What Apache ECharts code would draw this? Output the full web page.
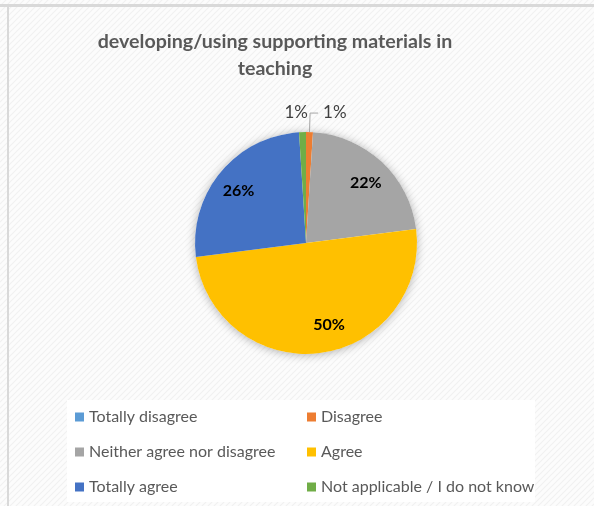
<!DOCTYPE html>
<html>
<head>
<meta charset="utf-8">
<script src="https://cdn.jsdelivr.net/npm/echarts@6/dist/echarts.min.js"></script>
<style>
html,body{margin:0;padding:0;background:#fbfbfb;}
#chart{width:594px;height:506px;}
</style>
</head>
<body>
<div id="chart"></div>
<script>
const titleText = 'developing/using supporting materials in\nteaching';
const categories = ['Totally disagree', 'Disagree', 'Neither agree nor disagree', 'Agree', 'Totally agree', 'Not applicable / I do not know'];
const values = [0, 1, 22, 50, 26, 1];
const colors = ['#5B9BD5', '#ED7D31', '#A5A5A5', '#FFC000', '#4472C4', '#70AD47'];
const legendLeftCol = ['Totally disagree', 'Neither agree nor disagree', 'Totally agree'];
const legendRightCol = ['Disagree', 'Agree', 'Not applicable / I do not know'];

const chart = echarts.init(document.getElementById('chart'), null, {renderer: 'canvas'});

// subtle diagonal hatch background
const pat = document.createElement('canvas');
pat.width = 6; pat.height = 6;
const pc = pat.getContext('2d');
pc.fillStyle = '#fcfcfc'; pc.fillRect(0, 0, 6, 6);
pc.strokeStyle = '#f1f1f1'; pc.lineWidth = 1.2;
pc.beginPath(); pc.moveTo(0, 6); pc.lineTo(6, 0); pc.moveTo(-3, 3); pc.lineTo(3, -3); pc.moveTo(3, 9); pc.lineTo(9, 3); pc.stroke();

const total = values.reduce((a, b) => a + b, 0);
const bigThreshold = 5;

const mainData = categories.map((name, i) => {
  const small = values[i] / total * 100 < bigThreshold;
  return {
    name: name,
    value: values[i],
    itemStyle: {color: colors[i]},
    label: {show: values[i] > 0 && small},
    labelLine: {show: small && i === 1}
  };
});
const labelData = categories.map((name, i) => ({
  name: name,
  value: values[i],
  label: {show: values[i] / total * 100 >= bigThreshold}
}));

const fmt = p => Math.round(p.value / total * 100) + '%';

const legendBase = {
  orient: 'vertical',
  top: 407,
  height: 100,
  padding: 0,
  itemWidth: 9,
  itemHeight: 9,
  itemGap: 15,
  icon: 'rect',
  selectedMode: false,
  textStyle: {fontFamily: 'Lato', fontSize: 16, color: '#595959', lineHeight: 20}
};

chart.setOption({
  backgroundColor: {image: pat, repeat: 'repeat'},
  animation: false,
  title: {
    text: titleText,
    left: 270,
    top: 23,
    textAlign: 'center',
    textStyle: {
      fontFamily: 'Lato',
      fontWeight: 'bold',
      fontSize: 19.6,
      lineHeight: 27,
      color: '#595959'
    }
  },
  graphic: [
    {type: 'rect', shape: {x: 0, y: 4, width: 594, height: 3}, style: {fill: '#d9d9d9'}, silent: true, z: -1},
    {type: 'rect', shape: {x: 7, y: 4, width: 2, height: 502}, style: {fill: '#d9d9d9'}, silent: true, z: -1},
    {type: 'rect', shape: {x: 67, y: 400, width: 468, height: 102}, style: {fill: '#ffffff'}, silent: true, z: -1}
  ],
  legend: [
    Object.assign({}, legendBase, {data: legendLeftCol, left: 75}),
    Object.assign({}, legendBase, {data: legendRightCol, left: 307})
  ],
  series: [
    {
      name: 'shadow',
      type: 'pie',
      z: 1,
      silent: true,
      center: [306, 243],
      radius: [0, 111],
      label: {show: false},
      labelLine: {show: false},
      data: [{name: '_shadow', value: 1, itemStyle: {color: '#ffffff', shadowBlur: 10, shadowColor: 'rgba(0,0,0,0.3)', shadowOffsetY: 1}}]
    },
    {
      name: 'main',
      type: 'pie',
      z: 2,
      center: [306, 243],
      radius: [0, 111],
      startAngle: 90,
      clockwise: true,
      avoidLabelOverlap: false,
      silent: true,
      label: {
        position: 'outside',
        formatter: fmt,
        fontFamily: 'Lato',
        fontSize: 17,
        color: '#404040'
      },
      labelLine: {length: 19, length2: 8, lineStyle: {color: '#a6a6a6', width: 1}},
      labelLayout: function (params) {
        if (params.dataIndex === 5) return {dx: 19, dy: -1};
        return {dy: -1};
      },
      data: mainData
    },
    {
      name: 'labels',
      type: 'pie',
      z: 3,
      silent: true,
      center: [306, 243],
      radius: [0, 169],
      startAngle: 90,
      clockwise: true,
      itemStyle: {color: 'rgba(0,0,0,0)'},
      labelLine: {show: false},
      label: {
        position: 'inside',
        formatter: fmt,
        fontFamily: 'Lato',
        fontWeight: 'bold',
        fontSize: 16,
        color: '#000000'
      },
      labelLayout: function (params) {
        if (params.dataIndex === 3) return {dx: 12, dy: -5};
        return {dy: 4};
      },
      data: labelData
    }
  ]
});
</script>
</body>
</html>
